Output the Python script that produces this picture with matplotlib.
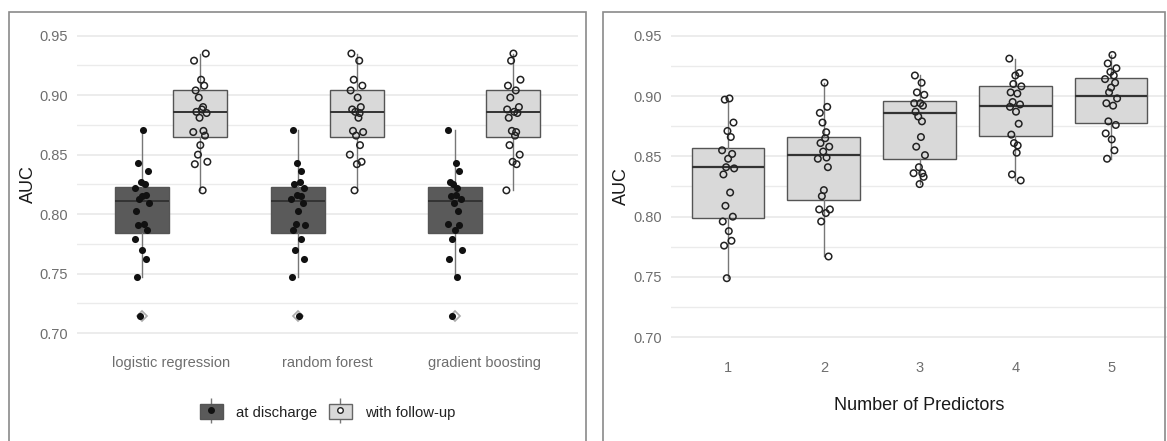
import numpy as np
import matplotlib
matplotlib.use('Agg')
import matplotlib.pyplot as plt
from matplotlib.patches import Rectangle, Patch
from matplotlib.lines import Line2D
from matplotlib.legend_handler import HandlerTuple

plt.rcParams['font.family'] = ['Liberation Sans', 'DejaVu Sans']

# ---- data, left panel ----
models = ['logistic regression', 'random forest', 'gradient boosting']
groups = ['at discharge', 'with follow-up']
auc_discharge = [0.871, 0.843, 0.836, 0.827, 0.825, 0.822, 0.816, 0.815, 0.813, 0.809,
                 0.803, 0.792, 0.791, 0.787, 0.779, 0.770, 0.762, 0.747, 0.714]
auc_followup = [0.935, 0.929, 0.913, 0.908, 0.904, 0.898, 0.890, 0.888, 0.886, 0.885,
                0.881, 0.870, 0.869, 0.866, 0.858, 0.850, 0.844, 0.842, 0.820]
# box stats: q1, median, q3, whisker low, whisker high
box_discharge = [0.784, 0.811, 0.823, 0.747, 0.871]
box_followup = [0.865, 0.886, 0.904, 0.820, 0.935]
fliers_discharge = [0.714]

# ---- data, right panel ----
predictors = [1, 2, 3, 4, 5]
auc_k1 = [0.898, 0.897, 0.878, 0.871, 0.866, 0.855, 0.852, 0.848, 0.841, 0.840,
          0.835, 0.820, 0.809, 0.800, 0.796, 0.788, 0.780, 0.776, 0.749]
auc_k2 = [0.911, 0.891, 0.886, 0.878, 0.870, 0.865, 0.861, 0.858, 0.854, 0.849,
          0.848, 0.841, 0.822, 0.817, 0.806, 0.806, 0.803, 0.796, 0.767]
auc_k3 = [0.917, 0.911, 0.903, 0.901, 0.894, 0.894, 0.892, 0.887, 0.883, 0.879,
          0.866, 0.858, 0.851, 0.841, 0.836, 0.836, 0.833, 0.827]
auc_k4 = [0.931, 0.919, 0.917, 0.910, 0.908, 0.903, 0.902, 0.895, 0.893, 0.891,
          0.887, 0.877, 0.868, 0.861, 0.859, 0.853, 0.835, 0.830]
auc_k5 = [0.934, 0.927, 0.923, 0.920, 0.917, 0.914, 0.911, 0.907, 0.903, 0.898,
          0.894, 0.892, 0.879, 0.876, 0.869, 0.864, 0.855, 0.848]
k_q1 = [0.799, 0.814, 0.848, 0.867, 0.878]
k_med = [0.841, 0.851, 0.886, 0.892, 0.900]
k_q3 = [0.857, 0.866, 0.896, 0.908, 0.915]
k_lo = [0.749, 0.767, 0.827, 0.830, 0.848]
k_hi = [0.897, 0.911, 0.917, 0.931, 0.934]

# jitter pattern for the points (fraction of max spread)
jit = [0.2, -0.5, 0.8, -0.1, 0.4, -0.9, 0.6, 0.0, -0.3, 0.9,
       -0.7, 0.3, -0.4, 0.7, -0.8, 0.1, 0.5, -0.6, -0.2, 0.35]

DARK = '#5a5a5a'
LIGHT = '#d9d9d9'
GRID = '#ebebeb'
TXT = '#6e6e6e'


def stats(b, fl=()):
    return dict(q1=b[0], med=b[1], q3=b[2], whislo=b[3], whishi=b[4], fliers=list(fl))


def style_axes(ax):
    ax.set_ylim(0.6875, 0.9625)
    ax.set_yticks([0.70, 0.75, 0.80, 0.85, 0.90, 0.95])
    ax.set_yticks([0.725, 0.775, 0.825, 0.875, 0.925], minor=True)
    ax.yaxis.set_major_formatter(plt.FormatStrFormatter('%.2f'))
    ax.grid(axis='y', which='major', color=GRID, lw=1.3)
    ax.grid(axis='y', which='minor', color=GRID, lw=1.0)
    ax.set_axisbelow(True)
    for s in ax.spines.values():
        s.set_visible(False)
    ax.tick_params(which='both', length=0, labelsize=10.5, labelcolor=TXT)
    ax.tick_params(axis='y', pad=6.5)
    ax.tick_params(axis='x', pad=6)
    ax.set_ylabel('AUC', fontsize=13, color='#1a1a1a', labelpad=2)


fig = plt.figure(figsize=(11.67, 4.41), dpi=100)

# panel frames
fig.add_artist(Rectangle((9 / 1167, -0.05), 577 / 1167, 1.05 - 12 / 441,
                         transform=fig.transFigure, fill=False, ec='#8a8a8a', lw=1.2))
fig.add_artist(Rectangle((603 / 1167, -0.05), 562 / 1167, 1.05 - 12 / 441,
                         transform=fig.transFigure, fill=False, ec='#8a8a8a', lw=1.2))

# ---- left panel ----
ax1 = fig.add_axes([0.066, 0.2109, 0.4293, 0.7419])
style_axes(ax1)
xs = np.arange(1, len(models) + 1)
dodge = 0.1875
bw = 0.345
for g, (vals, box, fl, fc) in enumerate([(auc_discharge, box_discharge, fliers_discharge, DARK),
                                          (auc_followup, box_followup, [], LIGHT)]):
    pos = xs + (-dodge if g == 0 else dodge)
    ax1.bxp([stats(box, fl) for _ in models], positions=pos, widths=bw, patch_artist=True,
            showcaps=False, manage_ticks=False,
            boxprops=dict(facecolor=fc, edgecolor='#555555', lw=1.0),
            medianprops=dict(color='#333333', lw=1.4),
            whiskerprops=dict(color='#777777', lw=1.0),
            flierprops=dict(marker='D', markersize=5.5, markerfacecolor='white',
                            markeredgecolor='#aaaaaa', markeredgewidth=1.2))
    for i, p in enumerate(pos):
        off = np.roll(jit, 3 * i + 7 * g)[:len(vals)] * 0.05
        if g == 0:
            ax1.scatter(p + off, vals, s=26, color='#111111', zorder=4, linewidths=0)
        else:
            ax1.scatter(p + off, vals, s=22, facecolor='none', edgecolor='#222222',
                        linewidths=1.1, zorder=4)
ax1.set_xlim(0.4, 3.6)
ax1.set_xticks(xs)
ax1.set_xticklabels(models)

# legend
wh = dict(color='#777777', marker='|', markersize=18, lw=0, markeredgewidth=1)
h1 = (Line2D([], [], **wh),
      Patch(facecolor=DARK, edgecolor='#555555'),
      Line2D([], [], color='#111111', marker='o', markersize=4, lw=0))
h2 = (Line2D([], [], **wh),
      Patch(facecolor=LIGHT, edgecolor='#666666'),
      Line2D([], [], markerfacecolor='white', markeredgecolor='#222222', marker='o',
             markersize=4, lw=0))
fig.legend([h1, h2], groups, loc='center', bbox_to_anchor=(0.2806, 0.0658), ncol=2,
           frameon=False, fontsize=10.7, handlelength=1.55, handleheight=1.2,
           handletextpad=0.87, columnspacing=0.8, labelcolor='#222222',
           handler_map={tuple: HandlerTuple(ndivide=1, pad=0)})

# ---- right panel ----
ax2 = fig.add_axes([0.5747, 0.2009, 0.4266, 0.7524])
style_axes(ax2)
k_vals = [auc_k1, auc_k2, auc_k3, auc_k4, auc_k5]
k_stats = [dict(q1=a, med=b, q3=c, whislo=d, whishi=e, fliers=[])
           for a, b, c, d, e in zip(k_q1, k_med, k_q3, k_lo, k_hi)]
ax2.bxp(k_stats, positions=predictors, widths=0.76, patch_artist=True, showcaps=False,
        manage_ticks=False,
        boxprops=dict(facecolor=LIGHT, edgecolor='#555555', lw=1.0),
        medianprops=dict(color='#333333', lw=1.6),
        whiskerprops=dict(color='#777777', lw=1.0))
for i, (p, vals) in enumerate(zip(predictors, k_vals)):
    off = np.roll(jit, 5 * i)[:len(vals)] * 0.07
    ax2.scatter(p + off, vals, s=22, facecolor='none', edgecolor='#222222',
                linewidths=1.1, zorder=4)
ax2.set_xlim(0.4, 5.6)
ax2.set_xticks(predictors)
ax2.set_xlabel('Number of Predictors', fontsize=13, color='#1a1a1a', labelpad=16)

fig.savefig('out.png', dpi=100)
